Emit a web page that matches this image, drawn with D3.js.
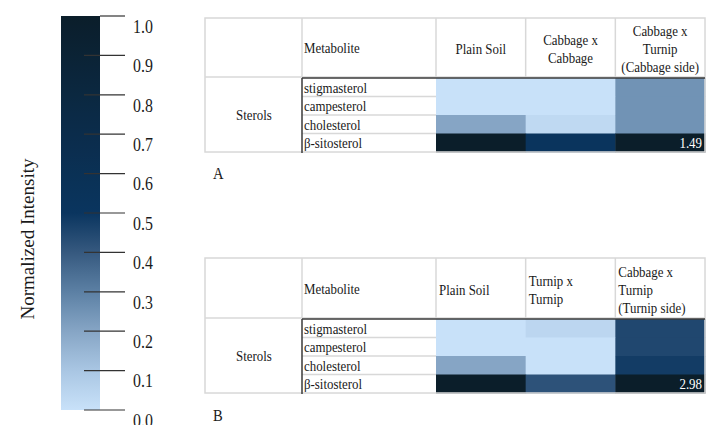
<!DOCTYPE html>
<html>
<head>
<meta charset="utf-8">
<script src="https://cdn.jsdelivr.net/npm/d3@7"></script>
<style>
  html, body { margin: 0; padding: 0; background: #fff; }
</style>
</head>
<body>
<svg id="chart" width="707" height="425"></svg>
<script>
// ---- data ----
const metabolites = ["stigmasterol", "campesterol", "cholesterol", "β-sitosterol"];
const groupLabel = "Sterols";

const conditionsA = ["Plain Soil", "Cabbage x Cabbage", "Cabbage x Turnip (Cabbage side)"];
const headerLinesA = [["Plain Soil"], ["Cabbage x", "Cabbage"], ["Cabbage x", "Turnip", "(Cabbage side)"]];
// rows = metabolites, columns = conditions (normalized intensity)
const valuesA = [
  [0.00, 0.00, 0.25],
  [0.00, 0.00, 0.25],
  [0.20, 0.03, 0.25],
  [1.00, 0.52, 1.49]
];

const conditionsB = ["Plain Soil", "Turnip x Turnip", "Cabbage x Turnip (Turnip side)"];
const headerLinesB = [["Plain Soil"], ["Turnip x", "Turnip"], ["Cabbage x", "Turnip", "(Turnip side)"]];
const valuesB = [
  [0.00, 0.04, 0.45],
  [0.00, 0.00, 0.45],
  [0.20, 0.00, 0.48],
  [1.00, 0.42, 2.98]
];

const legendTicks = [0.0, 0.1, 0.2, 0.3, 0.4, 0.5, 0.6, 0.7, 0.8, 0.9, 1.0];
const legendTitle = "Normalized Intensity";

// ---- colour scale (light blue → navy → near black) ----
const colorStops = [0, 0.1, 0.2, 0.3, 0.4, 0.5, 0.75, 1];
const colorRange = ["#c8e1f9", "#a9c6e3", "#86a5c5", "#5c80a4", "#36597f", "#0a355f", "#0b2a46", "#0b1e2a"];
const color = d3.scaleLinear().domain(colorStops).range(colorRange).clamp(true);

const FONT = "'Times New Roman', 'Liberation Serif', Tinos, 'DejaVu Serif', serif";
const svg = d3.select("#chart").attr("font-family", FONT);
const SX = 0.86; // horizontal squeeze of the serif glyphs
const ink = "#1a1a1a";
const gridColor = "#d8d8d8";

function label(g, x, y, s, size, anchor, fill) {
  return g.append("text")
    .attr("transform", `translate(${x},${y}) scale(${SX},1)`)
    .attr("text-anchor", anchor || "start")
    .attr("dominant-baseline", "central")
    .attr("font-family", FONT)
    .attr("font-size", size)
    .attr("fill", fill || ink)
    .text(s);
}

// ---- colour bar ----
const legendY = d3.scaleLinear().domain([0, 1]).range([410, 16]);
const defs = svg.append("defs");
const grad = defs.append("linearGradient")
  .attr("id", "cbar").attr("x1", 0).attr("y1", 1).attr("x2", 0).attr("y2", 0);
d3.range(0, 1.0001, 0.05).forEach(t => {
  grad.append("stop").attr("offset", t).attr("stop-color", color(t));
});
svg.append("rect")
  .attr("x", 61).attr("width", 39)
  .attr("y", legendY(1)).attr("height", legendY(0) - legendY(1))
  .attr("fill", "url(#cbar)");

const lg = svg.append("g");
legendTicks.forEach(t => {
  const y = legendY(t);
  lg.append("line")
    .attr("x1", t === 1 ? 100 : 84).attr("x2", 125)
    .attr("y1", y).attr("y2", y)
    .attr("stroke", "#333").attr("stroke-width", 1.2);
  label(lg, 133, y + 11, t.toFixed(1), 18.5, "start");
});
svg.append("text")
  .attr("transform", "translate(27,239) rotate(-90)")
  .attr("text-anchor", "middle")
  .attr("dominant-baseline", "central")
  .attr("font-family", FONT)
  .attr("font-size", 19)
  .attr("fill", ink)
  .text(legendTitle);

// ---- tables ----
function drawTable(opts) {
  const { top, headBottom, bottom, conditions, headerLines, values, align, tag, tagY } = opts;
  const g = svg.append("g");
  const left = 205, groupRight = 302, metaRight = 436, right = 705;

  const x = d3.scaleBand().domain(conditions).range([metaRight, right]);
  const y = d3.scaleBand().domain(metabolites).range([headBottom + 1, bottom]);

  // heat cells
  metabolites.forEach((m, r) => {
    conditions.forEach((c, k) => {
      const v = values[r][k];
      g.append("rect")
        .attr("x", x(c)).attr("y", y(m))
        .attr("width", x.bandwidth() + 0.5).attr("height", y.bandwidth() + 0.5)
        .attr("fill", color(v));
      if (v > 1) {
        label(g, x(c) + x.bandwidth() - 3, y(m) + y.bandwidth() / 2, v.toFixed(2), 15, "end", "#fff");
      }
    });
  });

  // light grid
  const grid = g.append("g").attr("stroke", gridColor).attr("stroke-width", 1.5).attr("fill", "none");
  grid.append("rect").attr("x", left).attr("y", top).attr("width", right - left).attr("height", bottom - top);
  grid.append("line").attr("x1", left).attr("x2", right).attr("y1", headBottom).attr("y2", headBottom);
  [groupRight, metaRight].concat(conditions.slice(1).map(c => x(c))).forEach(cx => {
    grid.append("line").attr("x1", cx).attr("x2", cx).attr("y1", top).attr("y2", headBottom);
  });
  metabolites.slice(1).forEach(m => {
    grid.append("line").attr("x1", groupRight).attr("x2", metaRight).attr("y1", y(m)).attr("y2", y(m));
  });

  // dark rules framing the metabolite block
  g.append("line").attr("x1", groupRight).attr("x2", right)
    .attr("y1", headBottom + 1).attr("y2", headBottom + 1)
    .attr("stroke", "#3a3a3a").attr("stroke-width", 1.5);
  g.append("line").attr("x1", groupRight).attr("x2", groupRight)
    .attr("y1", headBottom + 1).attr("y2", bottom + 1)
    .attr("stroke", "#3a3a3a").attr("stroke-width", 1.5);

  // header text
  const headMid = (top + headBottom) / 2;
  label(g, 304, headMid + 1, "Metabolite", 15, "start");
  const lineH = 18;
  headerLines.forEach((lines, k) => {
    const c = conditions[k];
    const n = lines.length;
    lines.forEach((s, j) => {
      const ly = headMid + 2 + (j - (n - 1) / 2) * lineH;
      if (align === "center") label(g, x(c) + x.bandwidth() / 2, ly, s, 15, "middle");
      else label(g, x(c) + 3, ly, s, 15, "start");
    });
  });

  // row labels
  label(g, 254, (headBottom + bottom) / 2 + 1, groupLabel, 15, "middle");
  metabolites.forEach(m => {
    label(g, 304, y(m) + y.bandwidth() / 2 + 0.5, m, 15, "start");
  });

  // panel tag
  label(g, 213, tagY, tag, 17, "start");
}

drawTable({ top: 18, headBottom: 77, bottom: 152, conditions: conditionsA, headerLines: headerLinesA,
            values: valuesA, align: "center", tag: "A", tagY: 173 });
drawTable({ top: 258, headBottom: 318, bottom: 393, conditions: conditionsB, headerLines: headerLinesB,
            values: valuesB, align: "left", tag: "B", tagY: 415 });
</script>
</body>
</html>
